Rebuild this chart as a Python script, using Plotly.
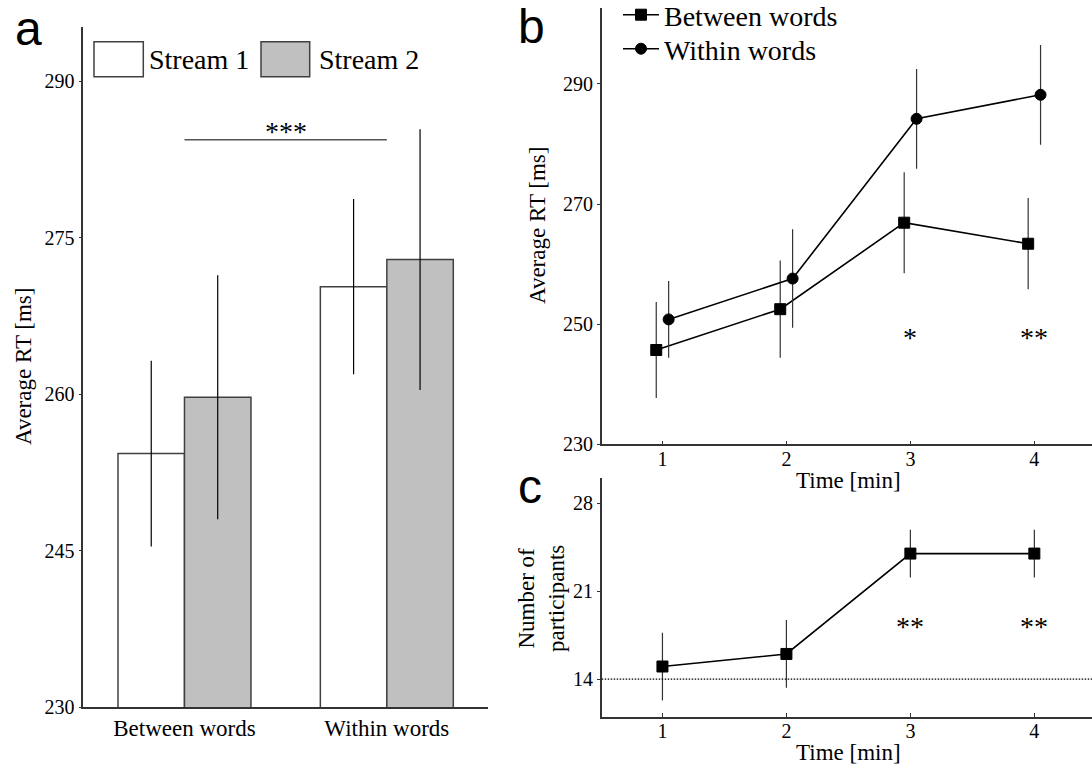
import plotly.graph_objects as go

# ---------------- data ----------------
bar_categories = ["Between words", "Within words"]
stream1_rt = [254.3, 270.3]
stream1_err = [8.9, 8.4]
stream2_rt = [259.7, 272.9]
stream2_err = [11.7, 12.5]

time_min = [1, 2, 3, 4]
between_rt = [245.7, 252.5, 266.9, 263.4]
between_err = [8.0, 8.1, 8.4, 7.6]
within_rt = [250.8, 257.6, 284.2, 288.2]
within_err = [6.4, 8.2, 8.3, 8.3]

participants = [15, 16, 24, 24]
participants_err = [2.7, 2.7, 1.9, 1.9]
chance_level = 14

sig_b = ["", "", "*", "**"]
sig_c = ["", "", "**", "**"]

a_ticks = [230, 245, 260, 275, 290]
b_ticks = [230, 250, 270, 290]
c_ticks = [14, 21, 28]

# ---------------- style ----------------
W, H = 1092, 765
SERIF = "Liberation Serif"
SANS = "Liberation Sans"
AX = "#333333"
GRAY = "#c0c0c0"
OFF = 0.05


def px(x):
    return x / W


def py(y):
    return 1 - y / H


fig = go.Figure()

# Panel a bars
fig.add_trace(go.Bar(
    x=bar_categories, y=stream1_rt, name="Stream 1",
    marker=dict(color="white", line=dict(color="#404040", width=1.5)),
    error_y=dict(type="data", array=stream1_err, width=0, thickness=1.2, color="black"),
    xaxis="x", yaxis="y", showlegend=False,
))
fig.add_trace(go.Bar(
    x=bar_categories, y=stream2_rt, name="Stream 2",
    marker=dict(color=GRAY, line=dict(color="#404040", width=1.5)),
    error_y=dict(type="data", array=stream2_err, width=0, thickness=1.2, color="black"),
    xaxis="x", yaxis="y", showlegend=False,
))

# Panel b lines
fig.add_trace(go.Scatter(
    x=[t - OFF for t in time_min], y=between_rt, name="Between words",
    mode="lines+markers",
    line=dict(color="black", width=1.6),
    marker=dict(symbol="square", size=11, color="black", line=dict(color="black", width=1)),
    error_y=dict(type="data", array=between_err, width=0, thickness=1.2, color=AX),
    xaxis="x2", yaxis="y2", legend="legend",
))
fig.add_trace(go.Scatter(
    x=[t + OFF for t in time_min], y=within_rt, name="Within words",
    mode="lines+markers",
    line=dict(color="black", width=1.6),
    marker=dict(symbol="circle", size=11, color="black", line=dict(color="black", width=1)),
    error_y=dict(type="data", array=within_err, width=0, thickness=1.2, color=AX),
    xaxis="x2", yaxis="y2", legend="legend2",
))

# Panel c
fig.add_trace(go.Scatter(
    x=time_min, y=participants, name="Participants",
    mode="lines+markers",
    line=dict(color="black", width=1.6),
    marker=dict(symbol="square", size=11, color="black", line=dict(color="black", width=1)),
    error_y=dict(type="data", array=participants_err, width=0, thickness=1.2, color=AX),
    xaxis="x3", yaxis="y3", showlegend=False,
))

axis_common = dict(showline=True, linecolor=AX, linewidth=1.5, showgrid=False,
                   zeroline=False, tickcolor=AX, ticklen=4, automargin=False,
                   tickfont=dict(family=SERIF, size=20, color="black"))

legend_common = dict(xanchor="left", yanchor="top", bgcolor="rgba(0,0,0,0)",
                     borderwidth=0, font=dict(family=SERIF, size=28, color="black"),
                     tracegroupgap=0, itemwidth=36)

fig.update_layout(
    template="none",
    width=W, height=H,
    margin=dict(l=0, r=0, t=0, b=0, autoexpand=False),
    paper_bgcolor="white", plot_bgcolor="white",
    font=dict(family=SERIF, color="black"),
    barmode="group", bargap=0.343, bargroupgap=0,
    xaxis=dict(axis_common, domain=[px(83.3), px(488)], range=[-0.5, 1.5],
               ticks="", tickfont=dict(family=SERIF, size=23, color="black"),
               anchor="y"),
    yaxis=dict(axis_common, domain=[py(707), py(27)], range=[230, 295.2],
               tickvals=a_ticks, ticks="outside", ticklen=3, anchor="x"),
    xaxis2=dict(axis_common, domain=[px(601.7), 1.0], range=[0.51, 4.465],
                tickvals=time_min, ticks="inside", ticklabelstandoff=-4, anchor="y2"),
    yaxis2=dict(axis_common, domain=[py(444.3), py(8.3)], range=[230, 302.6],
                tickvals=b_ticks, ticks="outside", ticklen=3, anchor="x2"),
    xaxis3=dict(axis_common, domain=[px(601.7), 1.0], range=[0.51, 4.465],
                tickvals=time_min, ticks="inside", ticklabelstandoff=-4, anchor="y3"),
    yaxis3=dict(axis_common, domain=[py(716.7), py(478.3)], range=[11, 30],
                tickvals=c_ticks, ticks="outside", ticklen=3, anchor="x3"),
    legend=dict(legend_common, x=px(618), y=py(-10)),
    legend2=dict(legend_common, x=px(618), y=py(24)),
)

shapes = []
# significance bar panel a
shapes.append(dict(type="line", xref="x", yref="y", x0=0, x1=1, y0=284.4, y1=284.4,
                   line=dict(color="#555555", width=1.5)))
# chance level panel c
shapes.append(dict(type="line", xref="x3 domain", yref="y3", x0=0, x1=1,
                   y0=chance_level, y1=chance_level,
                   line=dict(color="black", width=1.2, dash="1.5px,1.5px")))
# legend boxes panel a
shapes.append(dict(type="rect", xref="paper", yref="paper",
                   x0=px(94), x1=px(143.3), y0=py(76.7), y1=py(41.7),
                   line=dict(color="#404040", width=1.5), fillcolor="white"))
shapes.append(dict(type="rect", xref="paper", yref="paper",
                   x0=px(261), x1=px(309.7), y0=py(76.7), y1=py(41.7),
                   line=dict(color="#404040", width=1.5), fillcolor=GRAY))
fig.update_layout(shapes=shapes)

ann = []


def text(x, y, s, size, family=SERIF, xref="paper", yref="paper", xanchor="center",
         yanchor="middle", angle=0):
    ann.append(dict(x=x, y=y, xref=xref, yref=yref, text=s, showarrow=False,
                    xanchor=xanchor, yanchor=yanchor, textangle=angle,
                    font=dict(family=family, size=size, color="black")))


# panel letters
text(px(28.7), py(29), "a", 48, family=SANS)
text(px(531), py(27), "b", 48, family=SANS)
text(px(530), py(487), "c", 48, family=SANS)

# panel a legend text
text(px(146.7), py(60), "Stream 1", 28, xanchor="left")
text(px(316.7), py(60), "Stream 2", 28, xanchor="left")

# axis titles
text(px(23), py(367), "Average RT [ms]", 23, angle=-90)
text(px(537), py(226), "Average RT [ms]", 23, angle=-90)
text(px(541), py(599), "Number of<br>participants", 23, angle=-90)
text(2.5, py(480), "Time [min]", 23, xref="x2")
text(2.5, py(752), "Time [min]", 23, xref="x3")

# significance stars
text(0.5, 285.2, "***", 28, xref="x", yref="y")
for t, s in zip(time_min, sig_b):
    if s:
        text(t, 247.8, s, 28, xref="x2", yref="y2")
for t, s in zip(time_min, sig_c):
    if s:
        text(t, 18.2, s, 28, xref="x3", yref="y3")

fig.update_layout(annotations=ann)

fig.write_html("out.html")
